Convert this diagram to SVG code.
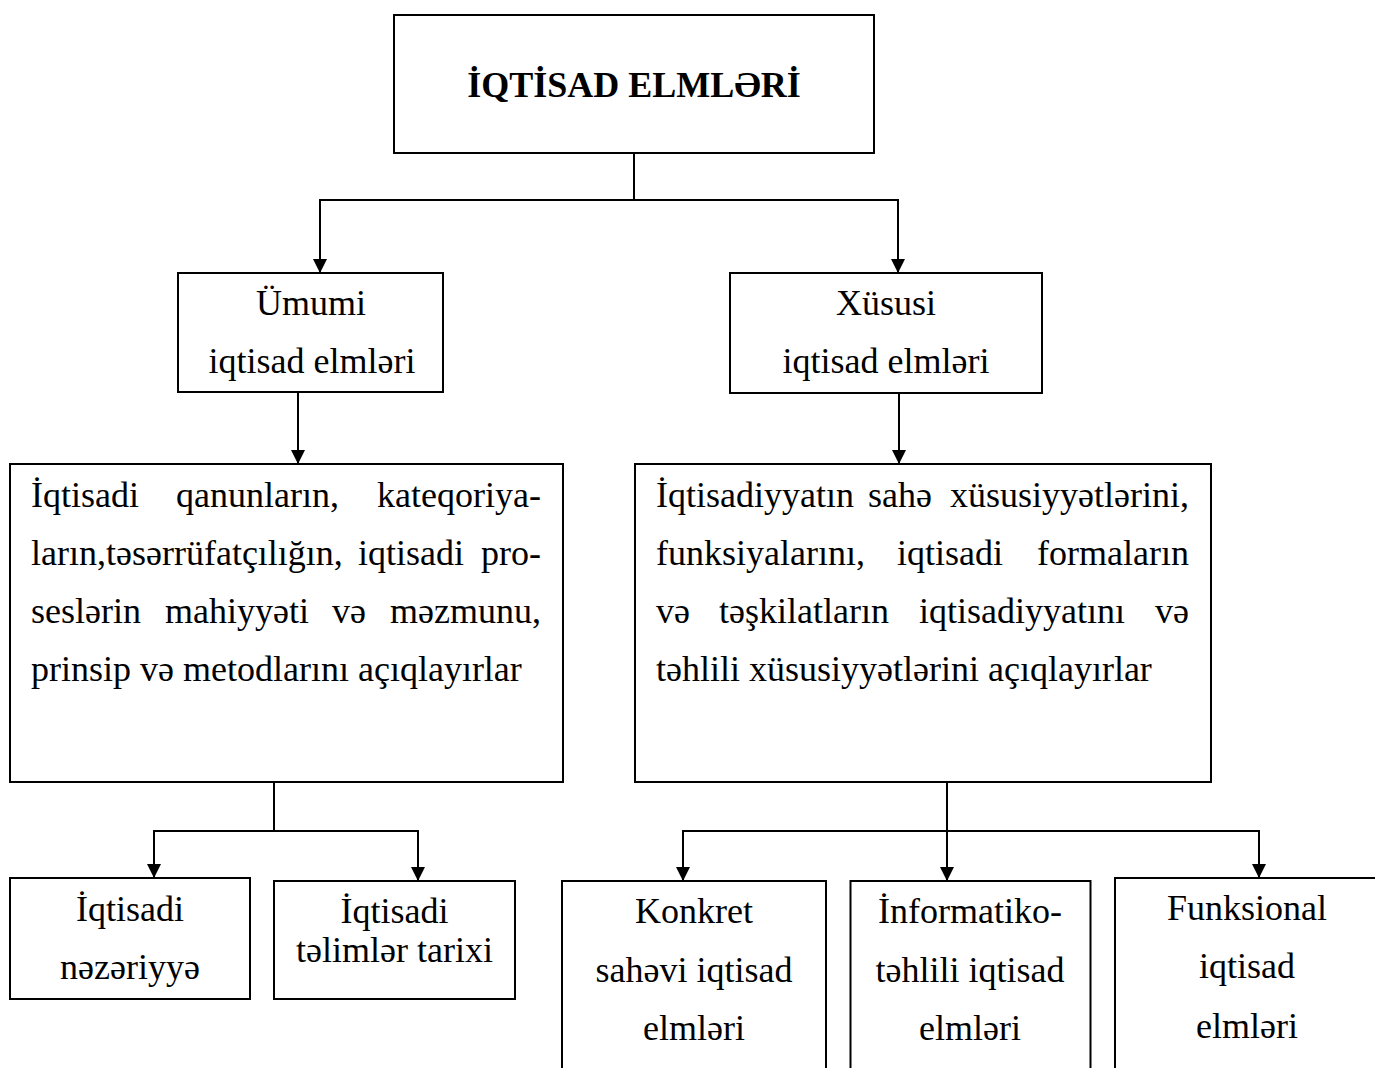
<svg xmlns="http://www.w3.org/2000/svg" width="1375" height="1068" viewBox="0 0 1375 1068">
<style>
.box{fill:#fff;stroke:#000;stroke-width:2}
.t{font-family:"Liberation Serif","Times New Roman",serif;font-size:36px;fill:#000}
.c{text-anchor:middle}
.e{text-anchor:end}
.b{font-weight:bold}
.con{fill:none;stroke:#000;stroke-width:2}
</style>
<defs>
<marker id="arr" markerUnits="userSpaceOnUse" markerWidth="14" markerHeight="14" viewBox="0 0 14 14" refX="14" refY="7" orient="auto">
<path d="M0,0 L14,7 L0,14 z" fill="#000"/>
</marker>
</defs>
<rect width="1375" height="1068" fill="#fff"/>
<g id="connectors">
<path class="con" d="M634,153 V200 H320 V273" marker-end="url(#arr)"/>
<path class="con" d="M634,153 V200 H898 V273" marker-end="url(#arr)"/>
<path class="con" d="M298,392 V464" marker-end="url(#arr)"/>
<path class="con" d="M899,393 V464" marker-end="url(#arr)"/>
<path class="con" d="M274,782 V831 H154 V878" marker-end="url(#arr)"/>
<path class="con" d="M274,782 V831 H418 V881" marker-end="url(#arr)"/>
<path class="con" d="M947,782 V831 H683 V881" marker-end="url(#arr)"/>
<path class="con" d="M947,782 V881" marker-end="url(#arr)"/>
<path class="con" d="M947,782 V831 H1259 V878" marker-end="url(#arr)"/>
</g>
<g id="root">
<rect class="box" x="394" y="15" width="480" height="138"/>
<text class="t c b" x="634" y="97">İQTİSAD ELMLƏRİ</text>
</g>
<g id="umumi">
<rect class="box" x="178" y="273" width="265" height="119"/>
<text class="t c" x="311" y="315">Ümumi</text>
<text class="t c" x="312" y="373">iqtisad elmləri</text>
</g>
<g id="xususi">
<rect class="box" x="730" y="273" width="312" height="120"/>
<text class="t c" x="886" y="315">Xüsusi</text>
<text class="t c" x="886" y="373">iqtisad elmləri</text>
</g>
<g id="umumi-desc">
<rect class="box" x="10" y="464" width="553" height="318"/>
<text class="t" x="31" y="507">İqtisadi</text>
<text class="t" x="176" y="507">qanunların,</text>
<text class="t e" x="541" y="507">kateqoriya-</text>
<text class="t" x="31" y="565">ların,təsərrüfatçılığın,</text>
<text class="t" x="358" y="565">iqtisadi</text>
<text class="t e" x="541" y="565">pro-</text>
<text class="t" x="31" y="623">seslərin</text>
<text class="t" x="165" y="623">mahiyyəti</text>
<text class="t" x="332" y="623">və</text>
<text class="t e" x="541" y="623">məzmunu,</text>
<text class="t" x="31" y="681">prinsip və metodlarını açıqlayırlar</text>
</g>
<g id="xususi-desc">
<rect class="box" x="635" y="464" width="576" height="318"/>
<text class="t" x="656" y="507">İqtisadiyyatın</text>
<text class="t" x="868" y="507">sahə</text>
<text class="t e" x="1189" y="507">xüsusiyyətlərini,</text>
<text class="t" x="656" y="565">funksiyalarını,</text>
<text class="t" x="897" y="565">iqtisadi</text>
<text class="t e" x="1189" y="565">formaların</text>
<text class="t" x="656" y="623">və</text>
<text class="t" x="719" y="623">təşkilatların</text>
<text class="t" x="919" y="623">iqtisadiyyatını</text>
<text class="t e" x="1189" y="623">və</text>
<text class="t" x="656" y="681">təhlili xüsusiyyətlərini açıqlayırlar</text>
</g>
<g id="nezeriyye">
<rect class="box" x="10" y="878" width="240" height="121"/>
<text class="t c" x="130" y="921">İqtisadi</text>
<text class="t c" x="130" y="979">nəzəriyyə</text>
</g>
<g id="telimler">
<rect class="box" x="274" y="881" width="241" height="118"/>
<text class="t c" x="394.5" y="923">İqtisadi</text>
<text class="t c" x="394.5" y="962">təlimlər tarixi</text>
</g>
<g id="konkret">
<rect class="box" x="562" y="881" width="264" height="200"/>
<text class="t c" x="694" y="923">Konkret</text>
<text class="t c" x="694" y="982">sahəvi iqtisad</text>
<text class="t c" x="694" y="1040">elmləri</text>
</g>
<g id="informatiko">
<rect class="box" x="850.5" y="881" width="240" height="200"/>
<text class="t c" x="970" y="923">İnformatiko-</text>
<text class="t c" x="970" y="982">təhlili iqtisad</text>
<text class="t c" x="970" y="1040">elmləri</text>
</g>
<g id="funksional">
<rect class="box" x="1115" y="878" width="280" height="200"/>
<text class="t c" x="1247" y="920">Funksional</text>
<text class="t c" x="1247" y="978">iqtisad</text>
<text class="t c" x="1247" y="1038">elmləri</text>
</g>
</svg>
